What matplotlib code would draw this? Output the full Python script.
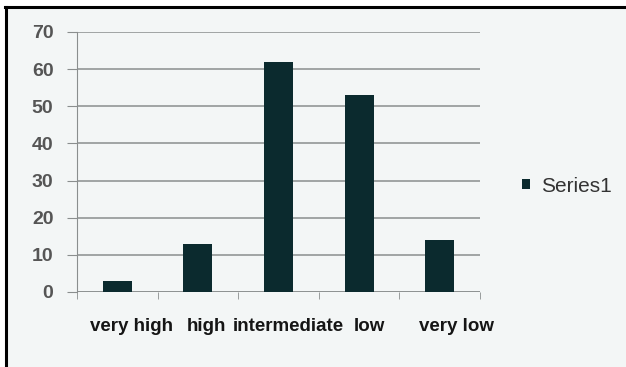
import matplotlib
matplotlib.use('Agg')
import matplotlib.pyplot as plt
import matplotlib.transforms as mtransforms
from matplotlib.patches import Rectangle

# Category labels and counts for the single series.
categories = ['very high', 'high', 'intermediate', 'low', 'very low']
series1 = [3, 13, 62, 53, 14]
yTicks = [0, 10, 20, 30, 40, 50, 60, 70]

barColor = '#0b2a2e'
bgColor = '#f3f6f6'

fig = plt.figure(figsize=(6.26, 3.67), dpi=100)
fig.patch.set_facecolor('white')

# Chart area with a black frame on the top and left edges.
W, H = 626.0, 367.0
fig.patches.append(Rectangle((6 / W, 0), 1 - 6 / W, 1 - 8 / H,
                             transform=fig.transFigure, facecolor=bgColor,
                             edgecolor='none', zorder=-1))
fig.add_artist(plt.Line2D([6 / W, 6 / W], [0, 1 - 7 / H], color='black',
                          lw=2.2, transform=fig.transFigure))
fig.add_artist(plt.Line2D([5 / W, 1], [1 - 7 / H, 1 - 7 / H], color='black',
                          lw=2.2, transform=fig.transFigure))

ax = fig.add_axes([77 / W, 75 / H, 403 / W, 260 / H])
ax.set_zorder(2)
ax.set_facecolor(bgColor)

x = range(len(categories))
ax.bar(x, series1, width=0.36, color=barColor, zorder=3, label='Series1')

ax.set_xlim(-0.5, len(categories) - 0.5)
ax.set_ylim(0, 70)
ax.set_yticks(yTicks)
ax.yaxis.grid(True, color='#8a8e8e', lw=1.1, zorder=0)
ax.set_axisbelow(True)
for s in ['top', 'right', 'bottom']:
    ax.spines[s].set_visible(False)
ax.spines['left'].set_color('#8a8e8e')
ax.axhline(0, color='#8a8e8e', lw=1.1, zorder=2)

# Category boundary ticks below the baseline.
ax.set_xticks([i - 0.5 for i in range(len(categories) + 1)], minor=True)
ax.tick_params(axis='x', which='minor', length=5, color='#8a8e8e')
ax.set_xticks(list(x))
ax.set_xticklabels(categories, fontsize=13.5, fontweight='bold',
                   color='#151515', family='Liberation Sans')
ax.tick_params(axis='x', which='major', length=0, pad=19)
ax.tick_params(axis='y', length=7, color='#8a8e8e', labelsize=14,
               labelcolor='#555555', pad=10)
for lbl in ax.get_yticklabels():
    lbl.set_fontweight('bold')
    lbl.set_family('Liberation Sans')

# Category labels sit a little right of the bar centres.
shifts = [14, 9, 10, 10, 17]
for lbl, dx in zip(ax.get_xticklabels(), shifts):
    lbl.set_transform(lbl.get_transform() + mtransforms.ScaledTranslation(
        dx / 100.0, 0, fig.dpi_scale_trans))

leg = fig.legend(loc='center left', bbox_to_anchor=(503 / W, 1 - 186 / H),
                 frameon=False, handlelength=0.38, handleheight=0.3,
                 handletextpad=0.55, prop={'family': 'Liberation Sans',
                                           'size': 15})
for t in leg.get_texts():
    t.set_color('#333333')

fig.savefig('out.png', dpi=100, facecolor='white')
